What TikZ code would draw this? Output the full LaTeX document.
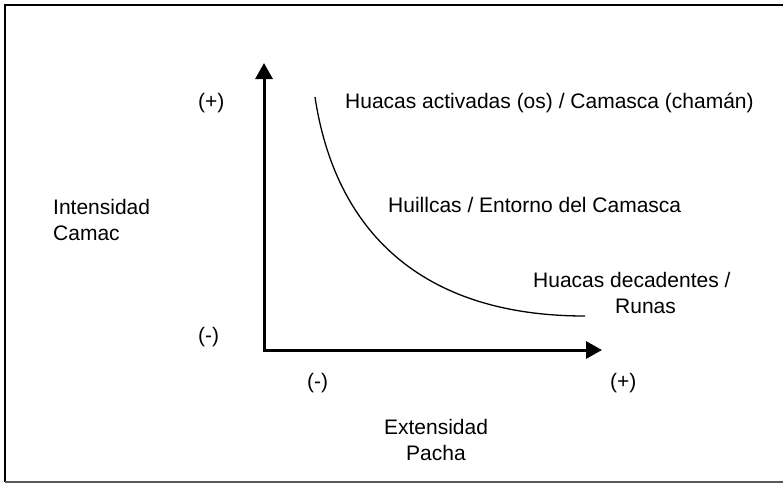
\documentclass[tikz,border=0pt]{standalone}
\usepackage{fontspec}
\setmainfont{Liberation Sans}
\usetikzlibrary{arrows.meta}

\tikzset{
  axis/.style={line width=3pt, -{Triangle[length=16pt,width=17pt]}},
  frame/.style={line width=2pt},
  lbl/.style={inner sep=0pt, font=\fontsize{21}{26}\selectfont},
}

\begin{document}
\begin{tikzpicture}[x=1pt, y=-1pt]
        \useasboundingbox (0,0) rectangle (783,483);
        \coordinate (O) at (264,350);
        \coordinate (Y) at (264,63);
        \coordinate (X) at (602,350);
        \coordinate (S) at (315,97);
        \coordinate (E) at (585,316);

        % frame
        \begin{scope}
        \clip (0,0) rectangle (783,483);
        \draw[frame] (5,482) -- (5,5) -- (800,5);
        \draw[frame, black!65] (5,482) -- (800,482);
        \end{scope}

        % axes
        \draw[axis] (O) -- (Y);
        \draw[axis] (O) -- (X);
        \fill (262.5,348.5) rectangle (265.5,351.5);

        % curve
        \draw[line width=1.3pt] (S) .. controls (335,230) and (420,316) .. (E);

        \node[lbl, anchor=west] (yplus) at (198,103) {(+)};
        \node[lbl, anchor=west] (yminus) at (198,337) {(-)};
        \node[lbl, align=left, anchor=north west] (ytitle) at (53,199) {Intensidad\\Camac};
        \node[lbl, anchor=west] (xminus) at (307,383) {(-)};
        \node[lbl, anchor=west] (xplus) at (610,383) {(+)};
        \node[lbl, align=center, anchor=north] (xtitle) at (436,419) {Extensidad\\Pacha};
        \node[lbl, anchor=west] (high) at (345,103) {Huacas activadas (os) / Camasca (chamán)};
        \node[lbl, anchor=west] (mid) at (388,205) {Huillcas / Entorno del Camasca};
        \node[lbl, align=left, anchor=north west] (low) at (533,272) {Huacas decadentes /\\\hspace*{82pt}Runas};
\end{tikzpicture}
\end{document}
